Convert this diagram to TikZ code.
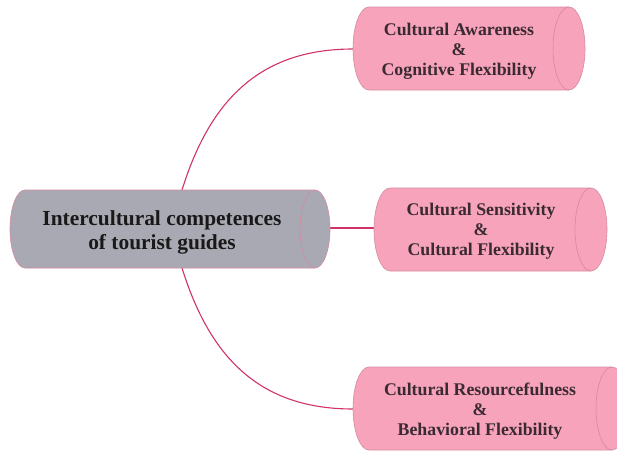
\documentclass[tikz,border=0pt]{standalone}
\usepackage{fontspec}
\setmainfont{Liberation Serif}[BoldFont={Liberation Serif Bold}]
\newfontfamily\boldserif{Liberation Serif Bold}
\definecolor{pinkfill}{HTML}{F7A3BB}
\definecolor{grayfill}{HTML}{A9A9B3}
\definecolor{cylborder}{HTML}{D48AA0}
\definecolor{linkcol}{HTML}{D0336A}
\definecolor{pinktext}{HTML}{3A2A32}
\tikzset{
  x=1pt, y=-1pt,
  link/.style={draw=linkcol, line width=1.1pt},
  cyltext/.style={align=center, font=\boldserif\fontsize{17.8}{20}\selectfont, text=pinktext, inner sep=0pt},
  maintext/.style={align=center, font=\boldserif\fontsize{21.4}{24}\selectfont, text=black!90, inner sep=0pt},
}
% #1 left x, #2 right x, #3 top y, #4 bottom y, #5 rx, #6 fill
\newcommand{\mycyl}[6]{%
  \pgfmathsetmacro{\cyA}{#1+#5}%
  \pgfmathsetmacro{\cyB}{#2-#5}%
  \pgfmathsetmacro{\cyR}{(#4-#3)/2}%
  \filldraw[fill=#6, draw=cylborder, line width=0.6pt]
    (\cyA,#3) -- (\cyB,#3) arc[start angle=90, end angle=-90, x radius=#5, y radius=-\cyR]
    -- (\cyA,#4) arc[start angle=270, end angle=90, x radius=#5, y radius=-\cyR] -- cycle;
  \draw[cylborder, line width=0.6pt] (\cyB,#3) arc[start angle=90, end angle=270, x radius=#5, y radius=-\cyR];
}
\begin{document}
\begin{tikzpicture}
\useasboundingbox (0,0) rectangle (617,450);
\clip (0,0) rectangle (617,450);

% anchor coordinates for connectors
\coordinate (mtop) at (182,190);
\coordinate (mbot) at (182,268);
\coordinate (mright) at (330,228);
\coordinate (ain) at (353,49);
\coordinate (sin) at (374,228);
\coordinate (rin) at (353,409);

% connectors
\draw[link] (mtop) .. controls (210,100) and (260,49) .. (ain);
\draw[link] (mbot) .. controls (210,358) and (260,409) .. (rin);
\draw[link] (mright) -- (sin);

% cylinders
\mycyl{10}{330}{190}{268}{15}{grayfill}
\mycyl{353}{585}{7}{90}{16}{pinkfill}
\mycyl{374}{607}{188}{271}{16}{pinkfill}
\mycyl{353}{628}{367}{450}{16}{pinkfill}

% texts
\node[maintext] (main) at (162,232) {Intercultural competences\\of tourist guides};
\node[cyltext] (aware) at (459,51.5) {Cultural Awareness\\\&\\Cognitive Flexibility};
\node[cyltext] (sens) at (481,231.5) {Cultural Sensitivity\\\&\\Cultural Flexibility};
\node[cyltext] (res) at (480,411.5) {Cultural Resourcefulness\\\&\\Behavioral Flexibility};
\end{tikzpicture}
\end{document}
